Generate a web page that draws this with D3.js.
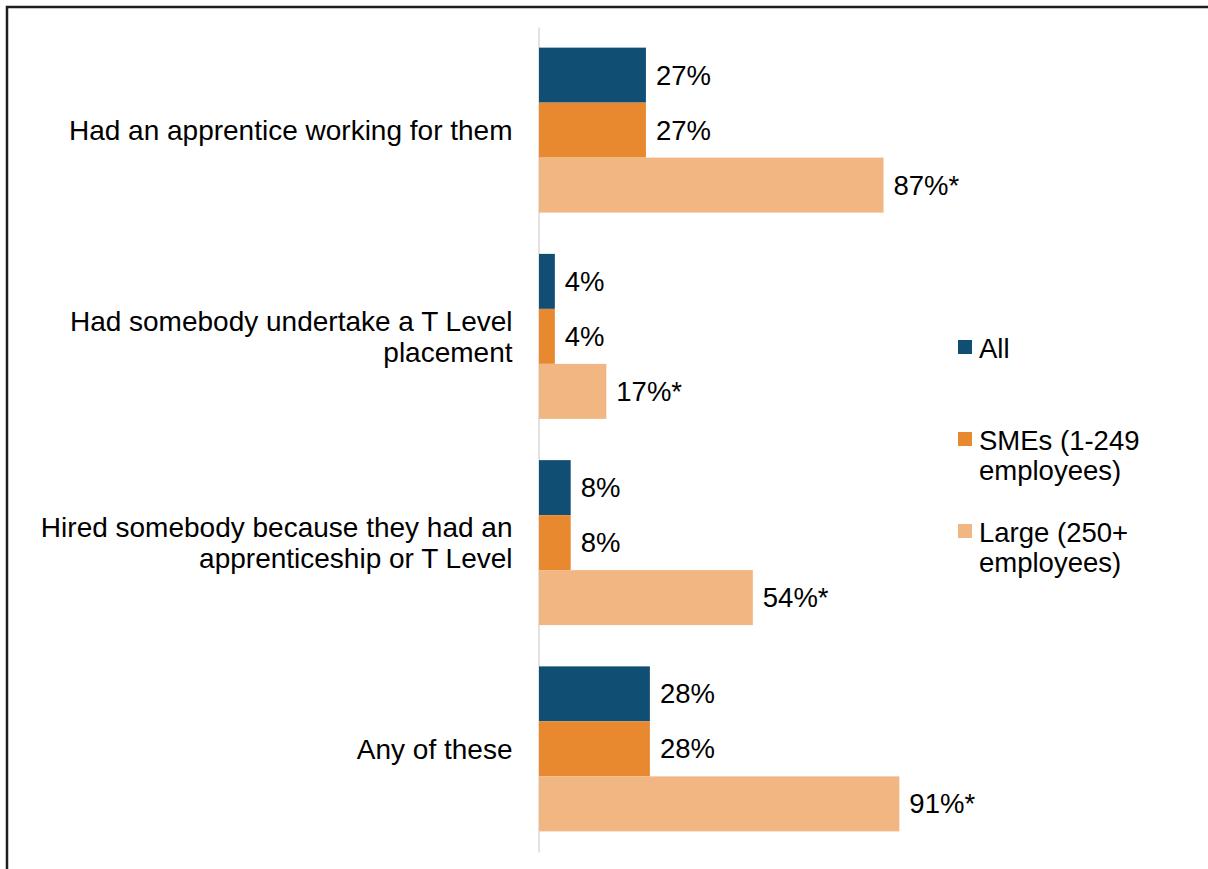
<!DOCTYPE html>
<html>
<head>
<meta charset="utf-8">
<script src="https://cdn.jsdelivr.net/npm/d3@7"></script>
<style>
  html, body { margin: 0; padding: 0; background: #fff; }
  svg { display: block; font-family: Arial, "Liberation Sans", sans-serif; }
</style>
</head>
<body>
<svg id="chart" width="1208" height="869"></svg>
<script>
// Survey measures (rows), each split into three respondent groups
const categories = [
  ["Had an apprentice working for them"],
  ["Had somebody undertake a T Level", "placement"],
  ["Hired somebody because they had an", "apprenticeship or T Level"],
  ["Any of these"]
];
const seriesNames = ["All", "SMEs (1-249 employees)", "Large (250+ employees)"];
const legendLines = [["All"], ["SMEs (1-249", "employees)"], ["Large (250+", "employees)"]];
const valuesAll   = [27, 4, 8, 28];
const valuesSME   = [27, 4, 8, 28];
const valuesLarge = [87, 17, 54, 91];
const significant = [false, false, true];   // asterisk marks a significant difference
const colours = ["#114e73", "#e88930", "#f2b682"];

const seriesValues = [valuesAll, valuesSME, valuesLarge];
const catKeys = categories.map(c => c.join(" "));

const svg = d3.select("#chart");
const fontSize = 27.5;
const catFontSize = 28;

// outer frame
svg.append("rect")
  .attr("x", 7).attr("y", 7)
  .attr("width", 1240).attr("height", 900)
  .attr("fill", "none")
  .attr("stroke", "#1e1e1e")
  .attr("stroke-width", 2.5);

const x = d3.scaleLinear().domain([0, 100]).range([539, 935]);
const y0 = d3.scaleBand().domain(catKeys).range([27, 852]).paddingInner(0.2).paddingOuter(0.1);
const y1 = d3.scaleBand().domain(seriesNames).range([0, y0.bandwidth()]);

// category axis
const axis = svg.append("g")
  .attr("transform", `translate(${x(0) - 0.5},0)`)
  .call(d3.axisLeft(y0).tickSize(0).tickSizeOuter(0).tickPadding(26));
axis.select(".domain").attr("stroke", "#d9d9d9").attr("stroke-width", 1.5);
axis.selectAll(".tick text").each(function(d, i) {
  const lines = categories[i];
  const t = d3.select(this).text(null)
    .attr("font-size", catFontSize)
    .attr("fill", "#000")
    .attr("font-family", "Arial, 'Liberation Sans', sans-serif")
    .attr("dy", null)
    .attr("dominant-baseline", "central");
  const lh = 31;
  lines.forEach((ln, j) => {
    t.append("tspan")
      .attr("x", t.attr("x"))
      .attr("y", (j - (lines.length - 1) / 2) * lh)
      .text(ln);
  });
});

// bars
const groups = svg.append("g").selectAll("g")
  .data(catKeys)
  .join("g")
  .attr("transform", d => `translate(0,${y0(d)})`);

groups.each(function(cat, ci) {
  const g = d3.select(this);
  seriesNames.forEach((s, si) => {
    const v = seriesValues[si][ci];
    g.append("rect")
      .attr("x", x(0))
      .attr("y", y1(s))
      .attr("width", x(v) - x(0))
      .attr("height", y1.bandwidth())
      .attr("fill", colours[si]);
    g.append("text")
      .attr("x", x(v) + 10)
      .attr("y", y1(s) + y1.bandwidth() / 2)
      .attr("dominant-baseline", "central")
      .attr("font-size", fontSize)
      .attr("fill", "#000")
      .text(v + "%" + (significant[si] ? "*" : ""));
  });
});

// legend
const legendY = [348, 440, 532];
const legend = svg.append("g");
seriesNames.forEach((s, i) => {
  const yc = legendY[i];
  legend.append("rect")
    .attr("x", 958).attr("y", yc - 8)
    .attr("width", 14).attr("height", 14)
    .attr("fill", colours[i]);
  const t = legend.append("text")
    .attr("font-size", fontSize)
    .attr("fill", "#000")
    .attr("dominant-baseline", "central");
  legendLines[i].forEach((ln, j) => {
    t.append("tspan").attr("x", 979).attr("y", yc + j * 30).text(ln);
  });
});
</script>
</body>
</html>
